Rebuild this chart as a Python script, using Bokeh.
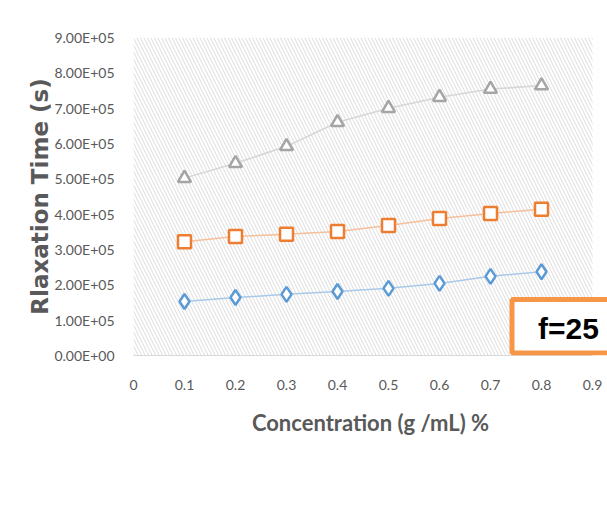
from bokeh.plotting import figure
from bokeh.models import FixedTicker, BoxAnnotation, Label, Legend, LegendItem
from bokeh.embed import file_html
from bokeh.resources import INLINE

conc = [0.1, 0.2, 0.3, 0.4, 0.5, 0.6, 0.7, 0.8]
ch = [1.53e5, 1.64e5, 1.73e5, 1.81e5, 1.90e5, 2.04e5, 2.24e5, 2.37e5]
ch_025 = [3.22e5, 3.37e5, 3.43e5, 3.51e5, 3.68e5, 3.88e5, 4.02e5, 4.14e5]
ch_05 = [5.02e5, 5.44e5, 5.92e5, 6.60e5, 7.00e5, 7.31e5, 7.54e5, 7.64e5]

series_names = ["Ch", "Ch+0.25 TiO2", "Ch+0.5 TiO2"]

y_ticks = [0, 1e5, 2e5, 3e5, 4e5, 5e5, 6e5, 7e5, 8e5, 9e5]
y_tick_labels = ["0.00E+00", "1.00E+05", "2.00E+05", "3.00E+05", "4.00E+05",
                 "5.00E+05", "6.00E+05", "7.00E+05", "8.00E+05", "9.00E+05"]
x_ticks = [0, 0.1, 0.2, 0.3, 0.4, 0.5, 0.6, 0.7, 0.8, 0.9]
x_tick_labels = ["0", "0.1", "0.2", "0.3", "0.4", "0.5", "0.6", "0.7", "0.8", "0.9"]
x_min, x_max = 0, 0.9
y_min, y_max = 0, 9e5
note = "f=25"

FL, FT = 133, 37
FW, FH = 474, 318
x_end = x_max * FW / (FW - 15)     # frame runs to the right edge; 0.9 sits 15px in

p = figure(frame_width=FW, frame_height=FH, output_backend="svg", toolbar_location=None,
           x_range=(x_min, x_end), y_range=(y_min, y_max),
           min_border_left=FL, min_border_right=0, min_border_top=FT, min_border_bottom=0)
p.outline_line_color = None
p.xgrid.grid_line_color = None
p.ygrid.grid_line_color = None

# hatched plot area
p.add_layout(BoxAnnotation(left=x_min, right=x_max, bottom=y_min, top=y_max,
                           fill_alpha=0, line_alpha=0, hatch_pattern="left_diagonal_line",
                           hatch_color="#dcdcdc", hatch_scale=7, hatch_weight=1, level="underlay"))

tick_font = "Lato"
gray = "#595959"

p.yaxis.ticker = FixedTicker(ticks=y_ticks)
p.yaxis.major_label_overrides = {t: l for t, l in zip(y_ticks, y_tick_labels)}
p.xaxis.ticker = FixedTicker(ticks=x_ticks)
p.xaxis.major_label_overrides = {t: l for t, l in zip(x_ticks, x_tick_labels)}
for ax in (p.xaxis[0], p.yaxis[0]):
    ax.major_tick_line_color = None
    ax.minor_tick_line_color = None
    ax.major_label_text_font = tick_font
    ax.major_label_text_font_size = "14px"
    ax.major_label_text_color = gray
p.yaxis.axis_line_color = None
p.xaxis.axis_line_color = "#d9d9d9"
p.xaxis.bounds = (x_min, x_max)
p.yaxis.major_label_standoff = 13
p.xaxis.major_label_standoff = 18

p.yaxis.axis_label = "Rlaxation Time (s)"
p.yaxis.axis_label_text_font = "DejaVu Sans"
p.yaxis.axis_label_text_font_style = "bold"
p.yaxis.axis_label_text_font_size = "23px"
p.yaxis.axis_label_text_color = gray
p.yaxis.axis_label_standoff = -2

p.xaxis.axis_label = "Concentration (g /mL) %"
p.xaxis.axis_label_text_font = tick_font
p.xaxis.axis_label_text_font_style = "bold"
p.xaxis.axis_label_text_font_size = "22px"
p.xaxis.axis_label_text_color = gray
p.xaxis.axis_label_standoff = 16

line_colors = ["#a9c9ea", "#f6bf9a", "#d6d6d6"]
mark_colors = ["#5b9bd5", "#ed7d31", "#a5a5a5"]
markers = ["diamond", "square", "triangle"]
sizes = [15, 13, 13]
items = []
for ys, lc, mc, mk, sz, nm in zip([ch, ch_025, ch_05], line_colors, mark_colors, markers, sizes, series_names):
    r1 = p.line(conc, ys, line_color=lc, line_width=1.5)
    r2 = p.scatter(conc, ys, marker=mk, size=sz, fill_color="white", line_color=mc, line_width=2.5)
    items.append(LegendItem(label=nm, renderers=[r1, r2]))

leg = Legend(items=items, orientation="horizontal", location="center_left", margin=11, padding=10,
             label_text_font=tick_font, label_text_font_size="14px", label_text_color=gray,
             glyph_width=33, glyph_height=26, label_height=46, spacing=21, label_standoff=4,
             border_line_color=None, background_fill_alpha=0)
p.add_layout(leg, "below")

# f=25 box
p.add_layout(BoxAnnotation(left=511.5, right=640, top=299, bottom=352.5,
                           left_units="canvas", right_units="canvas",
                           top_units="canvas", bottom_units="canvas",
                           fill_color="white", fill_alpha=1, line_color="#f79646",
                           line_alpha=1, line_width=5))
p.add_layout(Label(x=568, y=328, x_units="canvas", y_units="canvas", text=note,
                   text_font="Liberation Sans", text_font_style="bold", text_font_size="30px",
                   text_color="black", text_align="center", text_baseline="middle"))

open("out.html", "w").write(file_html(p, INLINE))
